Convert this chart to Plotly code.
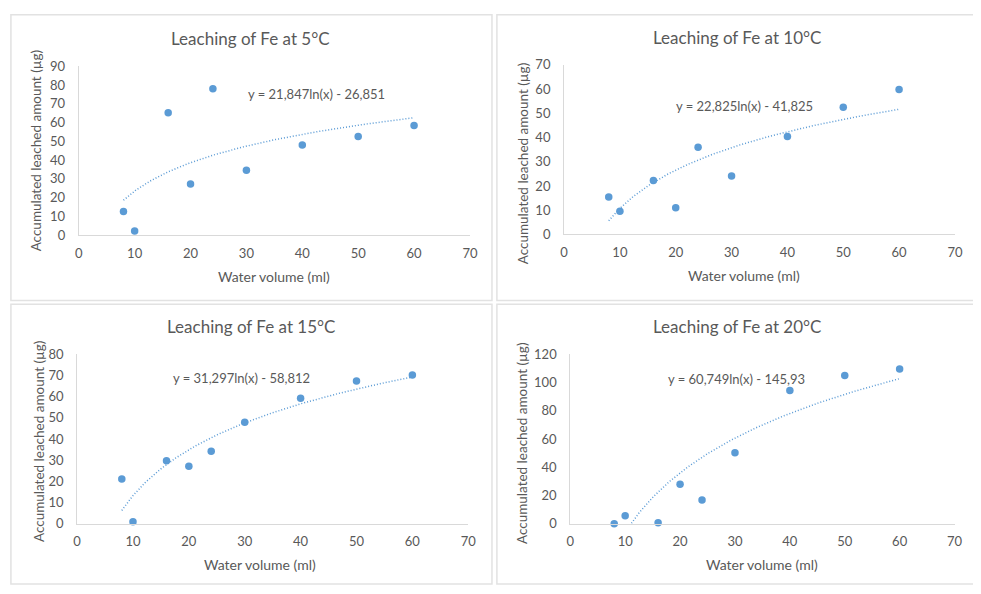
import numpy as np
import plotly.graph_objects as go

W, H = 981, 594

# ---------------- data ----------------
water_volume = [8, 10, 16, 20, 24, 30, 40, 50, 60]
fe_5C = [12.5, 2.1, 65.2, 27.2, 78.0, 34.6, 48.1, 52.6, 58.5]
fe_10C = [15.4, 9.6, 22.2, 11.0, 36.0, 24.1, 40.4, 52.5, 59.8]
fe_15C = [21.1, 0.9, 29.7, 27.1, 34.3, 48.0, 59.3, 67.4, 70.3]
fe_20C = [0.0, 5.7, 0.7, 28.0, 16.8, 50.3, 94.5, 105.1, 109.7]

titles = ["Leaching of Fe at 5°C", "Leaching of Fe at 10°C",
          "Leaching of Fe at 15°C", "Leaching of Fe at 20°C"]
equations = ["y = 21,847ln(x) - 26,851", "y = 22,825ln(x) - 41,825",
             "y = 31,297ln(x) - 58,812", "y = 60,749ln(x) - 145,93"]
trend_a = [21.847, 22.825, 31.297, 60.749]
trend_b = [-26.851, -41.825, -58.812, -145.93]
y_max = [90, 70, 80, 120]
y_step = [10, 10, 10, 20]
x_ticks = [0, 10, 20, 30, 40, 50, 60, 70]
x_title = "Water volume (ml)"
y_title = "Accumulated leached amount (µg)"
series = [fe_5C, fe_10C, fe_15C, fe_20C]

# ---------------- layout geometry (pixels) ----------------
plot_boxes = [  # x0, x1, y0(top), y1(bottom)
    (75.7, 471.7, 60.0, 233.3),
    (567.0, 962.7, 58.3, 232.7),
    (74.0, 470.0, 356.0, 530.0),
    (573.3, 962.3, 356.0, 530.0),
]
# x0, x1, y0(top), y1(bottom), has right edge
panel_boxes = [
    (7, 494, 7, 300.5, True),
    (499, 981, 7, 300.5, False),
    (7, 494, 304.5, 592, True),
    (499, 981, 304.5, 592, False),
]
title_pos = [(250, 31.7), (742, 30), (250, 327), (742, 327)]
eq_pos = [(316, 88), (750, 100.7), (240.5, 380), (741.5, 381.7)]
xt_pos = [(273.3, 275.7), (749, 275), (259, 571.7), (767.7, 571.7)]
yt_pos = [(32, 146.7), (525, 160), (35, 445.5), (525, 447.5)]

def fx(px):
    return px / W

def fy(py):
    return 1 - py / H

BLUE = "#5B9BD5"
GRAY = "#595959"
AXIS = "#D9D9D9"
BORDER = "#E2E2E2"
FONT = "Lato"

fig = go.Figure()
annotations = []
shapes = []

for i in range(4):
    n = i + 1
    xa = "x" if n == 1 else f"x{n}"
    ya = "y" if n == 1 else f"y{n}"
    # trendline from the displayed equation
    xs = np.linspace(min(water_volume), max(water_volume), 200)
    ys = trend_a[i] * np.log(xs) + trend_b[i]
    fig.add_trace(go.Scatter(x=xs, y=ys, mode="lines", xaxis=xa, yaxis=ya,
                             line=dict(color=BLUE, width=1.5, dash="1px,2px"),
                             hoverinfo="skip", showlegend=False))
    fig.add_trace(go.Scatter(x=water_volume, y=series[i], mode="markers",
                             xaxis=xa, yaxis=ya, cliponaxis=False,
                             marker=dict(color=BLUE, size=7.5),
                             showlegend=False))
    x0, x1, y0, y1 = plot_boxes[i]
    fig.layout[f"xaxis{'' if n == 1 else n}"] = dict(
        domain=[fx(x0), fx(x1)], anchor=ya, range=[0, 70],
        tickvals=x_ticks, showgrid=False, zeroline=False,
        showline=True, linecolor=AXIS, linewidth=1,
        ticks="outside", ticklen=6, tickcolor="rgba(0,0,0,0)",
        tickfont=dict(family=FONT, size=13, color=GRAY), fixedrange=True)
    fig.layout[f"yaxis{'' if n == 1 else n}"] = dict(
        domain=[fy(y1), fy(y0)], anchor=xa, range=[0, y_max[i]],
        dtick=y_step[i], tick0=0, showgrid=False, zeroline=False,
        showline=True, linecolor=AXIS, linewidth=1,
        ticks="outside", ticklen=10, tickcolor="rgba(0,0,0,0)",
        tickfont=dict(family=FONT, size=13, color=GRAY), fixedrange=True)

    px0, px1, py0, py1, right = panel_boxes[i]
    if right:
        path = (f"M {fx(px0)} {fy(py0)} L {fx(px1)} {fy(py0)} "
                f"L {fx(px1)} {fy(py1)} L {fx(px0)} {fy(py1)} Z")
    else:
        path = (f"M {fx(px1)} {fy(py0)} L {fx(px0)} {fy(py0)} "
                f"L {fx(px0)} {fy(py1)} L {fx(px1)} {fy(py1)}")
    shapes.append(dict(type="path", xref="paper", yref="paper", path=path,
                       line=dict(color=BORDER, width=1.5)))
    annotations.append(dict(text=titles[i], xref="paper", yref="paper",
                            x=fx(title_pos[i][0]), y=fy(title_pos[i][1]),
                            xanchor="center", yanchor="middle", showarrow=False,
                            font=dict(family=FONT, size=17, color=GRAY)))
    annotations.append(dict(text=equations[i], xref="paper", yref="paper",
                            x=fx(eq_pos[i][0]), y=fy(eq_pos[i][1]),
                            xanchor="center", yanchor="middle", showarrow=False,
                            font=dict(family=FONT, size=13, color=GRAY)))
    annotations.append(dict(text=x_title, xref="paper", yref="paper",
                            x=fx(xt_pos[i][0]), y=fy(xt_pos[i][1]),
                            xanchor="center", yanchor="middle", showarrow=False,
                            font=dict(family=FONT, size=14, color=GRAY)))
    annotations.append(dict(text=y_title, xref="paper", yref="paper",
                            x=fx(yt_pos[i][0]), y=fy(yt_pos[i][1]),
                            xanchor="center", yanchor="middle", showarrow=False,
                            textangle=-90,
                            font=dict(family=FONT, size=13.5, color=GRAY)))

fig.update_layout(width=W, height=H, margin=dict(l=0, r=0, t=0, b=0),
                  paper_bgcolor="white", plot_bgcolor="white",
                  annotations=annotations, shapes=shapes, showlegend=False)

fig.write_html("out.html", config={"displayModeBar": False},
               post_script="document.body.style.margin='0';"
                           "document.body.style.overflow='hidden';")
